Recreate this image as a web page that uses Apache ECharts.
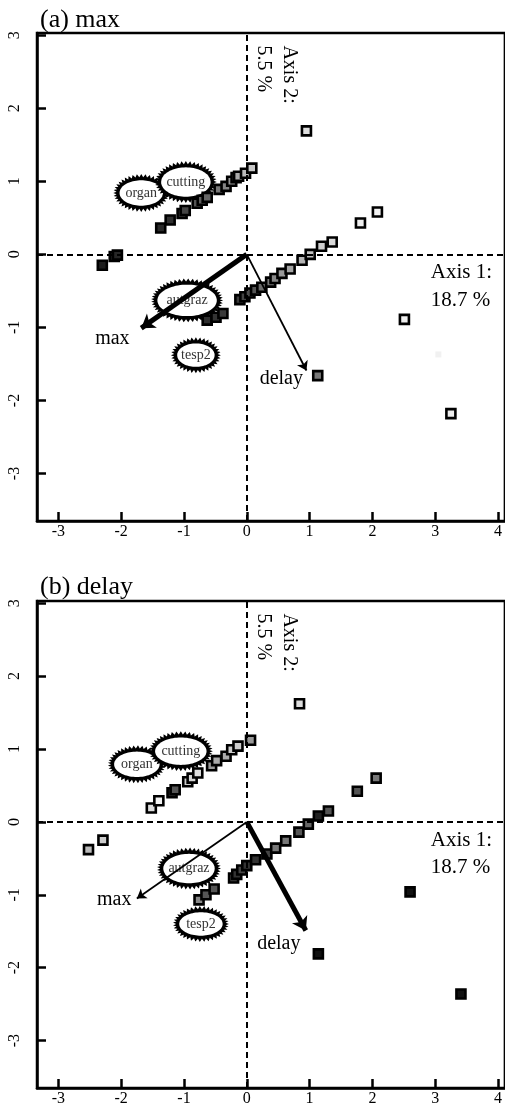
<!DOCTYPE html>
<html><head><meta charset="utf-8">
<script src="https://cdn.jsdelivr.net/npm/echarts@6/dist/echarts.min.js"></script>
<style>html,body{margin:0;padding:0;background:#fff}#c{width:505px;height:1107px}</style>
</head><body><div id="c"></div>
<script>
// ---------- DATA ----------
const panelTitles = ['(a) max', '(b) delay'];
const axis1Text = ['Axis 1:', '18.7 %'];
const axis2Text = ['Axis 2:', '5.5 %'];
const xRange = [-3.34, 4.11];
const yRange = [-3.65, 3.03];

// panel (a) sample scores [axis1, axis2]
const pointsA = [
  [-2.30,-0.15],[-2.11,-0.03],[-2.06,-0.01],
  [-1.37,0.36],[-1.22,0.47],[-1.03,0.56],[-0.98,0.60],[-0.79,0.70],[-0.71,0.74],[-0.63,0.78],
  [-0.44,0.89],[-0.33,0.93],[-0.24,1.00],[-0.17,1.05],[-0.13,1.07],[-0.02,1.11],[0.08,1.18],
  [-0.63,-0.90],[-0.49,-0.86],[-0.38,-0.81],[-0.11,-0.62],[-0.03,-0.58],[0.05,-0.53],[0.14,-0.49],
  [0.24,-0.45],[0.38,-0.38],[0.45,-0.33],[0.56,-0.26],[0.69,-0.20],[0.88,-0.08],[1.01,0.00],
  [1.19,0.11],[1.36,0.17],
  [1.81,0.43],[2.08,0.58],[0.95,1.69],[2.51,-0.89],[3.25,-2.18],[1.13,-1.66]
];
const shadesA = [
  '#1c1c1c','#222','#262626',
  '#2a2a2a','#303030','#3a3a3a','#444','#555','#5e5e5e','#666',
  '#777','#858585','#999','#a2a2a2','#aaa','#bbb','#c8c8c8',
  '#2e2e2e','#333','#3a3a3a','#3c3c3c','#444','#4c4c4c','#555',
  '#6a6a6a','#777','#888','#999','#a5a5a5','#b5b5b5','#c0c0c0',
  '#cfcfcf','#dadada',
  '#eee','#f2f2f2','#ddd','#eee','#eee','#777'
];
const faintPointsA = [[3.05,-1.37]];

// panel (b) sample scores
const pointsB = [
  [-2.52,-0.38],[-2.29,-0.25],
  [-1.52,0.19],[-1.40,0.29],[-1.19,0.40],[-1.14,0.44],[-0.94,0.55],[-0.87,0.60],[-0.78,0.67],
  [-0.56,0.77],[-0.48,0.84],[-0.33,0.90],[-0.24,0.99],[-0.14,1.04],[0.06,1.12],[0.84,1.62],
  [-0.76,-1.07],[-0.65,-1.00],[-0.52,-0.92],[-0.21,-0.77],[-0.16,-0.72],[-0.08,-0.66],[0.00,-0.60],
  [0.14,-0.52],[0.32,-0.44],[0.46,-0.36],[0.62,-0.26],[0.83,-0.14],[0.98,-0.03],[1.14,0.08],
  [1.30,0.15],[1.76,0.42],[2.06,0.60],
  [2.60,-0.96],[1.14,-1.81],[3.41,-2.36]
];
const shadesB = [
  '#bbb','#ccc',
  '#ddd','#f2f2f2','#333','#555','#ccc','#d5d5d5','#ddd',
  '#999','#aaa','#aaa','#ccc','#ccc','#999','#ddd',
  '#888','#555','#555','#444','#333','#444','#333',
  '#333','#444','#777','#777','#555','#666','#222',
  '#555','#555','#777',
  '#111','#111','#111'
];

// variable arrows (end coordinates)
const arrowNames = ['max', 'delay'];
const arrowEndsA = [[-1.68,-1.01],[0.95,-1.59]];
const arrowEndsB = [[-1.75,-1.05],[0.94,-1.49]];
const arrowLabelsA = [[-2.14,-1.15],[0.55,-1.70]];
const arrowLabelsB = [[-2.11,-1.07],[0.51,-1.67]];

// class centres
const classNames = ['organ','cutting','autgraz','tesp2'];
const classCentersA = [[-1.68,0.84],[-0.97,0.99],[-0.95,-0.63],[-0.81,-1.38]];
const classCentersB = [[-1.75,0.79],[-1.05,0.97],[-0.92,-0.64],[-0.73,-1.40]];

// axis-inertia label anchors
const axis1Pos = [[2.93,-0.25],[2.93,-0.63]];
const axis2Pos = [[0.67,2.86],[0.27,2.86]];

// ---------- STYLE ----------
const SERIF = 'Liberation Serif, Times New Roman, serif';
const classSizesA = [[28,19],[31,21],[36,22],[25,18]];
const classSizesB = [[29,19],[32,20],[32,21],[28,18]];
const thickArrow = [0, 1]; // index of thick arrow per panel

const chart = echarts.init(document.getElementById('c'), null, {renderer:'canvas'});

function zigPoly(cx, cy, a, b) {
  const per = 2*Math.PI*Math.sqrt((a*a+b*b)/2);
  const n = Math.round(per/3.8);
  const pts = [];
  for (let i=0;i<2*n;i++){
    const t = i*Math.PI/n;
    const r = (i%2===0) ? 0 : 3.2;
    pts.push([cx+(a-r)*Math.cos(t), cy+(b-r)*Math.sin(t)]);
  }
  return pts;
}
function ellPoly(cx, cy, a, b) {
  const pts=[];
  for (let i=0;i<80;i++){ const t=i*2*Math.PI/80; pts.push([cx+a*Math.cos(t), cy+b*Math.sin(t)]); }
  return pts;
}

function classSeries(gi, centers, sizes) {
  return {
    type:'custom', xAxisIndex:gi, yAxisIndex:gi, z:3, silent:true, animation:false,
    data: centers,
    renderItem: function(params, api){
      const c = api.coord([api.value(0), api.value(1)]);
      const s = sizes[params.dataIndex];
      return {type:'group', children:[
        {type:'polygon', shape:{points:zigPoly(c[0],c[1],s[0],s[1])}, style:{fill:'#000'}},
        {type:'polygon', shape:{points:ellPoly(c[0],c[1],s[0]-6.3,s[1]-6.3)}, style:{fill:'#fff'}},
        {type:'text', x:c[0], y:c[1], style:{text:classNames[params.dataIndex], align:'center', verticalAlign:'middle', fill:'#333', font:'14px '+SERIF}}
      ]};
    }
  };
}

function textSeries(gi, items) {
  // items: [x, y, text, fontSize, rotate, align]
  return {
    type:'custom', xAxisIndex:gi, yAxisIndex:gi, z:6, silent:true, animation:false,
    data: items.map(d=>[d[0],d[1]]),
    renderItem: function(params, api){
      const it = items[params.dataIndex];
      const c = api.coord([api.value(0), api.value(1)]);
      return {type:'text', x:c[0], y:c[1], rotation: it[4],
        style:{text:it[2], align:it[5], verticalAlign:'middle', fill:'#000', font:it[3]+'px '+SERIF}};
    }
  };
}

function panelSeries(gi, points, shades, arrowEnds, arrowLabels, centers, sizes, thick) {
  const s = [];
  s.push({type:'scatter', xAxisIndex:gi, yAxisIndex:gi, data:[], z:1, silent:true,
    markLine:{silent:true, animation:false, symbol:['none','none'], label:{show:false},
      lineStyle:{color:'#000', type:[6,4], width:2},
      data:[{xAxis:0},{yAxis:0}]}});
  s.push({type:'scatter', xAxisIndex:gi, yAxisIndex:gi, data:[], z:2, silent:true,
    markLine:{silent:true, animation:false, symbol:['none','arrow'], label:{show:false},
      data: arrowEnds.map((e,i)=>[
        {coord:[0,0], symbolSize: i===thick?13:9, lineStyle:{color:'#000', type:'solid', width: i===thick?5:1.8}},
        {coord:e, symbolSize: i===thick?13:9}
      ])}});
  s.push(classSeries(gi, centers, sizes));
  s.push({type:'scatter', xAxisIndex:gi, yAxisIndex:gi, z:4, animation:false, symbol:'rect', symbolSize:9,
    data: points.map((p,i)=>({value:p, itemStyle:{color:shades[i]}})),
    itemStyle:{borderColor:'#000', borderWidth:2.6, opacity:1}});
  const texts = [];
  arrowNames.forEach((n,i)=>texts.push([arrowLabels[i][0],arrowLabels[i][1],n,20,0,'center']));
  texts.push([axis1Pos[0][0],axis1Pos[0][1],axis1Text[0],21,0,'left']);
  texts.push([axis1Pos[1][0],axis1Pos[1][1],axis1Text[1],21,0,'left']);
  texts.push([axis2Pos[0][0],axis2Pos[0][1],axis2Text[0],20,-Math.PI/2,'left']);
  texts.push([axis2Pos[1][0],axis2Pos[1][1],axis2Text[1],20,-Math.PI/2,'left']);
  s.push(textSeries(gi, texts));
  return s;
}

const gridTop = [33, 601];
const grids = gridTop.map(t=>({left:37, top:t, width:470, height:488, show:true, borderColor:'#000', borderWidth:2.5, backgroundColor:'transparent'}));
const fmt = v => (Math.abs(v-Math.round(v))<1e-6) ? String(Math.round(v)) : '';
const xAxes = [0,1].map(i=>({type:'value', gridIndex:i, min:xRange[0], max:xRange[1], splitNumber:7,
  axisLine:{show:true, onZero:false, lineStyle:{color:'#000', width:2.5}},
  axisTick:{show:true, inside:true, length:9, lineStyle:{color:'#000', width:2.5}},
  axisLabel:{formatter:fmt, fontFamily:SERIF, fontSize:16, color:'#000', margin:3, showMinLabel:false, showMaxLabel:false},
  splitLine:{show:false}}));
const yAxes = [0,1].map(i=>({type:'value', gridIndex:i, min:yRange[0], max:yRange[1], splitNumber:6,
  axisLine:{show:true, onZero:false, lineStyle:{color:'#000', width:2.5}},
  axisTick:{show:true, inside:true, length:9, lineStyle:{color:'#000', width:2.5}},
  axisLabel:{formatter:fmt, fontFamily:SERIF, fontSize:16, color:'#000', rotate:90, margin:14, showMinLabel:false, showMaxLabel:false},
  splitLine:{show:false}}));

const series = [].concat(
  panelSeries(0, pointsA, shadesA, arrowEndsA, arrowLabelsA, classCentersA, classSizesA, thickArrow[0]),
  panelSeries(1, pointsB, shadesB, arrowEndsB, arrowLabelsB, classCentersB, classSizesB, thickArrow[1]),
  [{type:'scatter', xAxisIndex:0, yAxisIndex:0, z:4, animation:false, symbol:'rect', symbolSize:6,
    data:faintPointsA, itemStyle:{color:'#eee'}}]
);

chart.setOption({
  animation:false,
  backgroundColor:'#fff',
  title: panelTitles.map((t,i)=>({text:t, left:35, top: i===0 ? 2 : 569,
    textStyle:{fontFamily:SERIF, fontSize:26, fontWeight:'normal', color:'#000'}})),
  grid: grids, xAxis: xAxes, yAxis: yAxes, series: series
});
</script></body></html>
